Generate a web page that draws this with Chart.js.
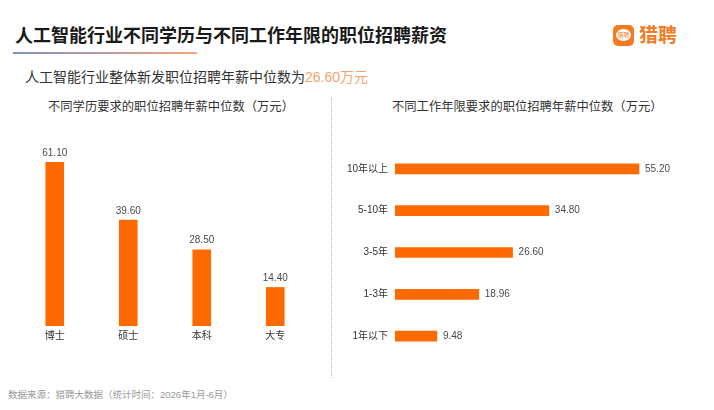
<!DOCTYPE html>
<html><head><meta charset="utf-8">
<script src="https://cdn.jsdelivr.net/npm/chart.js@4"></script>
<style>
body{margin:0;width:714px;height:410px;background:#fff;position:relative;overflow:hidden;font-family:"Liberation Sans","Noto Sans CJK SC",sans-serif;}
.abs{position:absolute;white-space:nowrap;}
</style></head><body>
<div class="abs" style="left:15px;top:25px;font-size:18px;font-weight:bold;color:#1a1a1a;line-height:22px">人工智能行业不同学历与不同工作年限的职位招聘薪资</div>
<div class="abs" style="left:13px;top:52px;width:184px;height:2px;background:linear-gradient(to right,#7f93c0,#f3a57a)"></div>
<div class="abs" style="left:25px;top:68px;font-size:14px;color:#333;line-height:18px">人工智能行业整体新发职位招聘年薪中位数为<span style="color:#f4a46c">26.60万元</span></div>
<div class="abs" style="left:48px;top:99px;font-size:12.3px;line-height:16px;color:#333">不同学历要求的职位招聘年薪中位数（万元）</div>
<div class="abs" style="left:392px;top:99px;font-size:12.3px;line-height:16px;color:#333">不同工作年限要求的职位招聘年薪中位数（万元）</div>
<div class="abs" style="left:331px;top:98px;height:280px;border-left:1px dotted #bbb"></div>
<div class="abs" style="left:8px;top:389px;font-size:9.5px;line-height:12px;color:#999">数据来源：猎聘大数据（统计时间：2026年1月-6月）</div>
<div class="abs" style="left:613px;top:25px;width:21px;height:21px;background:#f47b20;border-radius:5px">
  <div class="abs" style="left:3px;top:4px;width:15px;height:12px;background:#fff;border-radius:50%;font-size:6px;line-height:12px;text-align:center;color:#f47b20">猎聘</div>
</div>
<div class="abs" style="left:639px;top:24px;font-size:19px;line-height:24px;font-weight:bold;color:#f47b20">猎聘</div>

<div class="abs" style="left:0;top:130px;width:332px;height:230px"><canvas id="c1"></canvas></div>
<div class="abs" style="left:332px;top:130px;width:382px;height:240px"><canvas id="c2"></canvas></div>

<script>
const eduCategories = ['博士','硕士','本科','大专'];
const eduValues = [61.10, 39.60, 28.50, 14.40];
const expCategories = ['10年以上','5-10年','3-5年','1-3年','1年以下'];
const expValues = [55.20, 34.80, 26.60, 18.96, 9.48];

const FONT = '"Liberation Sans","Noto Sans CJK SC",sans-serif';
const BAR = '#ff6a00';

const valueLabels = {
  id:'valueLabels',
  afterDatasetsDraw(chart){
    const ctx = chart.ctx;
    const meta = chart.getDatasetMeta(0);
    const horiz = chart.options.indexAxis === 'y';
    ctx.save();
    ctx.fillStyle = '#4a4a4a';
    ctx.font = '10px ' + FONT;
    meta.data.forEach((el,i)=>{
      const v = chart.data.datasets[0].data[i].toFixed(2);
      if(horiz){ ctx.textAlign='left'; ctx.textBaseline='middle'; ctx.fillText(v, el.x+6, el.y); }
      else { ctx.textAlign='center'; ctx.textBaseline='bottom'; ctx.fillText(v, el.x, el.y-4); }
    });
    ctx.restore();
  }
};

Chart.defaults.font.family = FONT;
Chart.defaults.animation = false;

new Chart(document.getElementById('c1'), {
  type:'bar',
  data:{labels:eduCategories, datasets:[{data:eduValues, backgroundColor:BAR, barThickness:18}]},
  options:{
    responsive:true, maintainAspectRatio:false,
    layout:{padding:{left:18,right:20,top:22,bottom:14}},
    plugins:{legend:{display:false},tooltip:{enabled:false}},
    scales:{
      x:{grid:{display:false,drawTicks:false},border:{display:false},ticks:{font:{size:10},color:'#333',padding:4}},
      y:{display:false,min:0,max:65}
    }
  },
  plugins:[valueLabels]
});

new Chart(document.getElementById('c2'), {
  type:'bar',
  data:{labels:expCategories, datasets:[{data:expValues, backgroundColor:BAR, barThickness:10}]},
  options:{
    indexAxis:'y',
    responsive:true, maintainAspectRatio:false,
    layout:{padding:{left:0,right:9.6,top:18,bottom:12}},
    plugins:{legend:{display:false},tooltip:{enabled:false}},
    scales:{
      y:{grid:{display:false,drawTicks:false},border:{display:false},ticks:{font:{size:10},color:'#333',padding:7},afterFit(s){s.width=63;}},
      x:{display:false,min:0,max:70}
    }
  },
  plugins:[valueLabels]
});
</script>
</body></html>
